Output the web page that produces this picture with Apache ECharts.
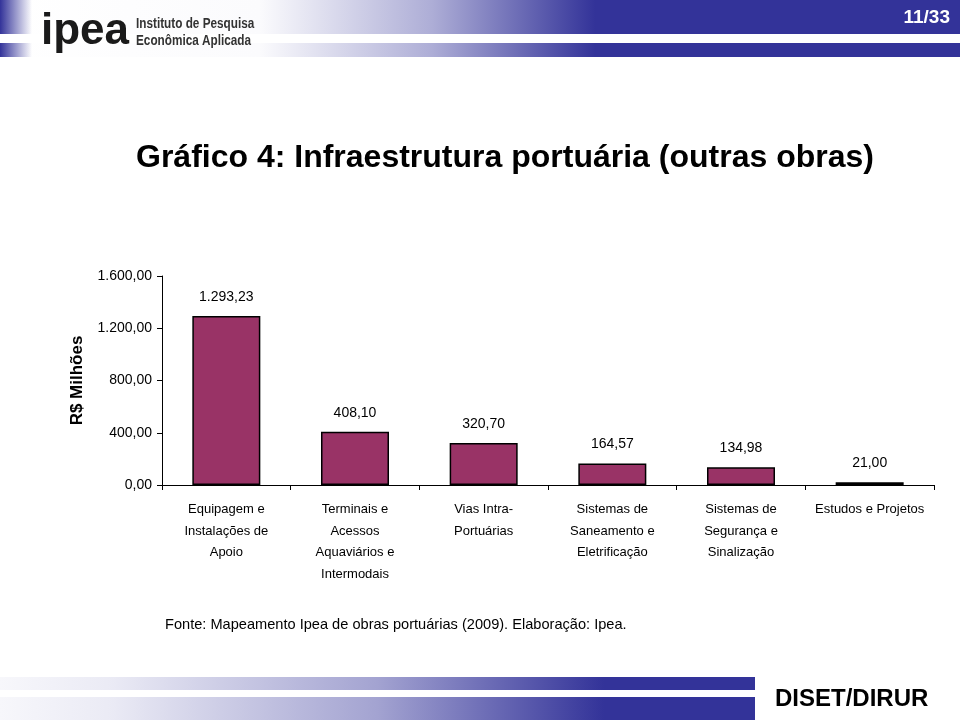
<!DOCTYPE html>
<html>
<head>
<meta charset="utf-8">
<script src="https://cdn.jsdelivr.net/npm/echarts@6/dist/echarts.min.js"></script>
<style>html,body{margin:0;padding:0;background:#fff}#c{width:960px;height:720px}</style>
</head>
<body>
<div id="c"></div>
<script>
var categories = [
  "Equipagem e\nInstalações de\nApoio",
  "Terminais e\nAcessos\nAquaviários e\nIntermodais",
  "Vias Intra-\nPortuárias",
  "Sistemas de\nSaneamento e\nEletrificação",
  "Sistemas de\nSegurança e\nSinalização",
  "Estudos e Projetos"
];
var values = [1293.23, 408.10, 320.70, 164.57, 134.98, 21.00];
var yTicks = [0, 400, 800, 1200, 1600];
var titleText = "Gráfico 4: Infraestrutura portuária (outras obras)";
var yName = "R$ Milhões";
var sourceText = "Fonte: Mapeamento Ipea de obras portuárias (2009). Elaboração: Ipea.";
var pageText = "11/33";
var footerText = "DISET/DIRUR";

function fmtBR(v) {
  var s = v.toFixed(2).split(".");
  var i = s[0].replace(/\B(?=(\d{3})+(?!\d))/g, ".");
  return i + "," + s[1];
}

function hGrad(stops) {
  return new echarts.graphic.LinearGradient(0, 0, 1, 0, stops);
}
var headGrad = [{offset:0,color:"rgba(51,51,153,0)"},{offset:0.27,color:"rgba(51,51,153,0.02)"},{offset:0.45,color:"rgba(51,51,153,0.4)"},{offset:0.62,color:"rgba(51,51,153,1)"},{offset:1,color:"rgba(51,51,153,1)"}];
var footGrad = [{offset:0,color:"rgba(51,51,153,0.04)"},{offset:0.15,color:"rgba(51,51,153,0.1)"},{offset:0.5,color:"rgba(51,51,153,0.45)"},{offset:0.8,color:"rgba(51,51,153,1)"},{offset:1,color:"rgba(51,51,153,1)"}];
var leftGrad = [{offset:0,color:"rgba(51,51,153,1)"},{offset:1,color:"rgba(51,51,153,0)"}];

var chart = echarts.init(document.getElementById("c"), null, {renderer: "canvas"});
chart.setOption({
  animation: false,
  backgroundColor: "#fff",
  textStyle: {fontFamily: "Liberation Sans, Arial, sans-serif"},
  grid: {left: 162, right: 26, top: 276, bottom: 235, containLabel: false},
  graphic: [
    {type: "rect", shape: {x: 0, y: 0, width: 960, height: 34}, style: {fill: hGrad(headGrad)}, silent: true},
    {type: "rect", shape: {x: 0, y: 43, width: 960, height: 14}, style: {fill: hGrad(headGrad)}, silent: true},
    {type: "rect", shape: {x: 0, y: 0, width: 32, height: 34}, style: {fill: hGrad(leftGrad)}, silent: true},
    {type: "rect", shape: {x: 0, y: 43, width: 32, height: 14}, style: {fill: hGrad(leftGrad)}, silent: true},
    {type: "text", left: 41, top: 10, style: {text: "ipea", font: "bold 44px 'Liberation Sans', Arial", fill: "#1a1a1a"}, silent: true},
    {type: "text", x: 136, y: 16, scaleX: 0.84, style: {text: "Instituto de Pesquisa\nEconômica Aplicada", font: "bold 14px 'Liberation Sans', Arial", lineHeight: 17, fill: "#333"}, silent: true},
    {type: "text", right: 10, top: 8, style: {text: pageText, font: "bold 19px 'Liberation Sans', Arial", fill: "#fff"}, silent: true},
    {type: "rect", shape: {x: 0, y: 677, width: 755, height: 13}, style: {fill: hGrad(footGrad)}, silent: true},
    {type: "rect", shape: {x: 0, y: 697, width: 755, height: 23}, style: {fill: hGrad(footGrad)}, silent: true},
    {type: "text", left: 775, top: 687, style: {text: footerText, font: "bold 24px 'Liberation Sans', Arial", fill: "#000"}, silent: true},
    {type: "text", left: 165, top: 617, style: {text: sourceText, font: "14.6px 'Liberation Sans', Arial", fill: "#000"}, silent: true}
  ],
  title: {
    text: titleText, left: 131, top: 137,
    textStyle: {fontSize: 32, fontWeight: "bold", color: "#000", fontFamily: "Liberation Sans, Arial"}
  },
  xAxis: {
    type: "category",
    data: categories,
    axisLine: {lineStyle: {color: "#000", width: 1}},
    axisTick: {show: true, length: 5, lineStyle: {color: "#000"}},
    axisLabel: {interval: 0, color: "#000", fontSize: 13, lineHeight: 21.5, margin: 14, fontFamily: "Liberation Sans, Arial"}
  },
  yAxis: {
    type: "value",
    min: 0, max: 1600, interval: 400,
    name: yName,
    nameLocation: "middle",
    nameGap: 76,
    nameRotate: 90,
    nameTextStyle: {fontSize: 17, fontWeight: "bold", color: "#000"},
    axisLine: {show: true, lineStyle: {color: "#000"}},
    axisTick: {show: true, length: 5, lineStyle: {color: "#000"}},
    splitLine: {show: false},
    axisLabel: {color: "#000", fontSize: 14, margin: 10, formatter: function(v){ return yTicks.indexOf(v) >= 0 ? fmtBR(v) : ""; }}
  },
  series: [{
    type: "bar",
    data: values,
    barWidth: 68,
    itemStyle: {color: "#993366", borderColor: "#000", borderWidth: 1.5},
    label: {show: true, position: "top", distance: 12, color: "#000", fontSize: 14, formatter: function(p){ return fmtBR(p.value); }}
  }]
});
</script>
</body>
</html>
